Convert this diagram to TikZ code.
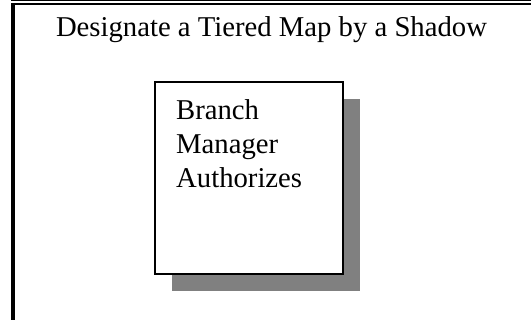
\documentclass[tikz,border=0pt]{standalone}
\usepackage{fontspec}
\setmainfont{Liberation Serif}
\usetikzlibrary{shadows}
\definecolor{shadowgray}{HTML}{808080}
\begin{document}
\begin{tikzpicture}[x=1pt,y=-1pt,
  heading/.style={font=\fontsize{28.7}{34}\selectfont, inner sep=0pt, anchor=base},
  card/.style={draw=black, line width=1.5pt, fill=white, rectangle,
    minimum width=188pt, minimum height=192pt, inner sep=0pt,
    general shadow={fill=shadowgray, shadow xshift=17pt, shadow yshift=-17pt}},
  cardtext/.style={font=\fontsize{28.7}{34}\selectfont, inner sep=0pt, align=left, anchor=base west}]
  \useasboundingbox (0,0) rectangle (531,320);
  \fill[white] (0,0) rectangle (531,320);
  % frame: thick rule and thin rule along the top, heavy rule down the left
  \coordinate (tl) at (11,5);
  \coordinate (tr) at (531,5);
  \coordinate (bl) at (11,320);
  \fill[black] (tl) rectangle ([yshift=2.2pt]tr);
  \fill[black] ([yshift=4pt]tl) rectangle ([yshift=5.2pt]tr);
  \fill[black] (tl) rectangle ([xshift=4pt]bl);
  % title
  \node[heading] (title) at (271.5,36.7) {Designate a Tiered Map by a Shadow};
  % box with drop shadow; its text is set from the last line's baseline
  \node[card] (box) at (249,178) {};
  \node[cardtext] (boxtext) at (176,188) {Branch\\Manager\\Authorizes};
\end{tikzpicture}
\end{document}
